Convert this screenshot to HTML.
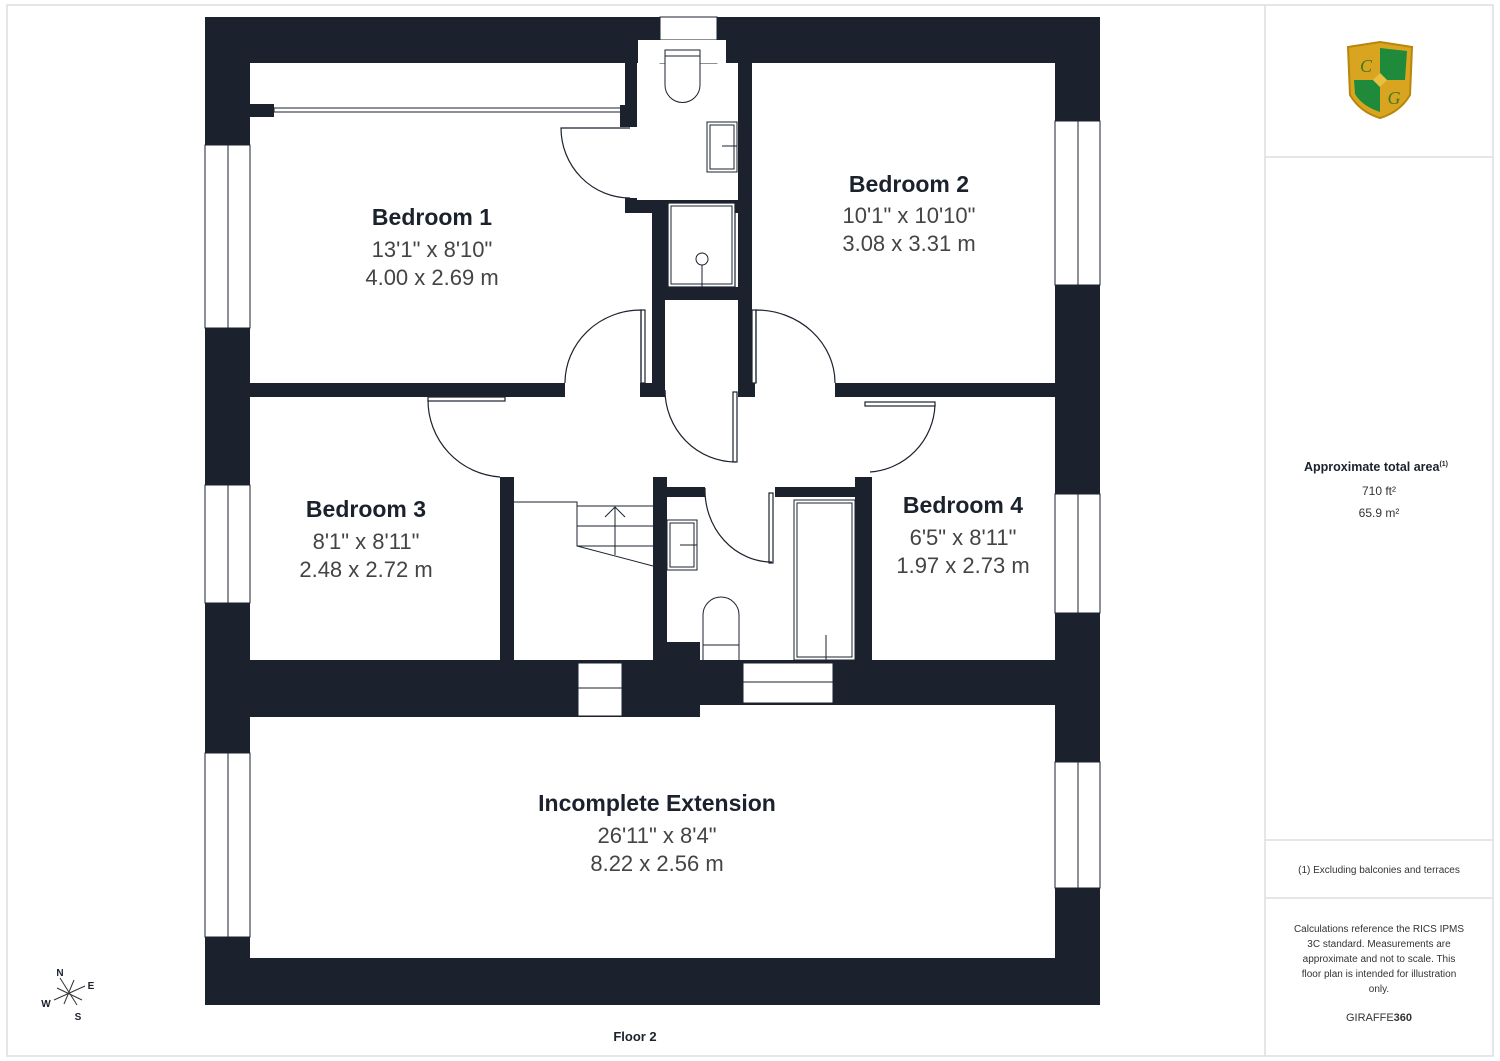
<!DOCTYPE html>
<html><head><meta charset="utf-8"><style>
body{margin:0;background:#fff}
svg{display:block}
.t{font-family:"Liberation Sans",sans-serif;font-weight:bold;fill:#1b222d;text-anchor:middle}
.d{font-family:"Liberation Sans",sans-serif;fill:#444;text-anchor:middle}
.s{font-family:"Liberation Sans",sans-serif;fill:#333;text-anchor:middle}
</style></head><body>
<svg width="1500" height="1061" viewBox="0 0 1500 1061" xmlns="http://www.w3.org/2000/svg">
<rect x="7" y="5" width="1486" height="1051" fill="none" stroke="#ddd" stroke-width="1.5"/>
<line x1="1265" y1="5" x2="1265" y2="1056" stroke="#ddd" stroke-width="1.5"/>
<line x1="1265" y1="157" x2="1493" y2="157" stroke="#ddd" stroke-width="1.5"/>
<line x1="1265" y1="840" x2="1493" y2="840" stroke="#ddd" stroke-width="1.5"/>
<line x1="1265" y1="898" x2="1493" y2="898" stroke="#ddd" stroke-width="1.5"/>

<rect x="205" y="17" width="895" height="988" fill="#1b222d"/>
<g fill="#fff">
<rect x="250" y="63" width="375" height="320"/>
<rect x="250" y="105" width="387" height="93"/>
<rect x="624" y="213" width="28" height="170"/>
<rect x="637" y="63" width="101" height="137"/>
<rect x="668" y="213" width="70" height="74"/>
<rect x="752" y="63" width="303" height="320"/>
<rect x="665" y="300" width="73" height="97"/>
<rect x="565" y="383" width="75" height="14"/>
<rect x="667" y="383" width="71" height="14"/>
<rect x="755" y="383" width="80" height="14"/>
<rect x="250" y="397" width="805" height="80"/>
<rect x="250" y="477" width="250" height="183"/>
<rect x="514" y="477" width="139" height="183"/>
<rect x="667" y="477" width="188" height="10"/>
<rect x="705" y="487" width="70" height="13"/>
<rect x="667" y="497" width="188" height="145"/>
<rect x="700" y="642" width="155" height="18"/>
<rect x="872" y="477" width="183" height="183"/>
<rect x="250" y="717" width="805" height="241"/>
<rect x="700" y="705" width="355" height="12"/>
</g>
<rect x="668" y="203" width="67" height="84" fill="#fff" stroke="#1b222d" stroke-width="1.2"/>
<rect x="671" y="206" width="61" height="78" fill="none" stroke="#1b222d" stroke-width="1"/>
<circle cx="702" cy="259" r="6" fill="none" stroke="#1b222d"/>
<line x1="702" y1="265" x2="702" y2="287" stroke="#1b222d"/>
<rect x="660" y="17" width="57" height="46" fill="#fff" stroke="#1b222d"/>
<line x1="660" y1="40" x2="717" y2="40" stroke="#1b222d"/>
<rect x="638" y="40" width="88" height="23" fill="#fff"/>
<path d="M665 50 H700 V85 A17 17 0 0 1 665 85 Z" fill="#fff" stroke="#1b222d"/>
<line x1="665" y1="56" x2="700" y2="56" stroke="#1b222d"/>
<rect x="707" y="122" width="30" height="50" fill="none" stroke="#1b222d"/>
<rect x="710" y="125" width="24" height="44" fill="none" stroke="#1b222d"/>
<line x1="722" y1="146" x2="737" y2="146" stroke="#1b222d"/>
<rect x="250" y="104" width="24" height="13" fill="#1b222d"/>
<rect x="274" y="108" width="350" height="4" fill="#fff" stroke="#1b222d"/>
<rect x="620" y="105" width="17" height="22" fill="#1b222d"/>
<g fill="#fff" stroke="#1b222d" stroke-width="1">
<rect x="205" y="145" width="45" height="183"/><line x1="228" y1="145" x2="228" y2="328"/>
<rect x="205" y="485" width="45" height="118"/><line x1="228" y1="485" x2="228" y2="603"/>
<rect x="205" y="753" width="45" height="184"/><line x1="228" y1="753" x2="228" y2="937"/>
<rect x="1055" y="121" width="45" height="164"/><line x1="1078" y1="121" x2="1078" y2="285"/>
<rect x="1055" y="494" width="45" height="119"/><line x1="1078" y1="494" x2="1078" y2="613"/>
<rect x="1055" y="762" width="45" height="126"/><line x1="1078" y1="762" x2="1078" y2="888"/>
<rect x="578" y="663" width="44" height="53"/><line x1="578" y1="688" x2="622" y2="688"/>
<rect x="743" y="663" width="90" height="40"/><line x1="743" y1="682" x2="833" y2="682"/>
</g>
<g fill="none" stroke="#1b222d" stroke-width="1">
<path d="M514 502 H577 V546 L653 566"/>
<path d="M577 506 H653 M577 526 H653 M577 546 H653"/>
<path d="M615 506 V555 M605 517 L615 507 L625 517"/>
</g>
<rect x="667" y="520" width="30" height="50" fill="none" stroke="#1b222d"/>
<rect x="670" y="523" width="24" height="44" fill="none" stroke="#1b222d"/>
<line x1="680" y1="545" x2="697" y2="545" stroke="#1b222d"/>
<path d="M703 660 V615 A18 18 0 0 1 739 615 V660" fill="#fff" stroke="#1b222d"/>
<line x1="703" y1="645" x2="739" y2="645" stroke="#1b222d"/>
<rect x="794" y="500" width="61" height="160" fill="none" stroke="#1b222d"/>
<rect x="797" y="503" width="55" height="154" fill="none" stroke="#1b222d"/>
<line x1="826" y1="635" x2="826" y2="660" stroke="#1b222d"/>
<g fill="none" stroke="#1b222d" stroke-width="1.2">
<path d="M630 128 H561 A69 70 0 0 0 630 198"/>
<path d="M641 383 V310 A76 73 0 0 0 565 383"/><rect x="641" y="310" width="4" height="73"/>
<path d="M756 383 V310 A79 73 0 0 1 835 383"/><rect x="752" y="310" width="4" height="73"/>
<path d="M736 462 A71 72 0 0 1 665 390"/><rect x="733" y="392" width="4" height="70"/>
<path d="M428 400 A77 77 0 0 0 500 477"/><rect x="428" y="397" width="77" height="4"/>
<path d="M935 405 A70 70 0 0 1 870 472"/><rect x="865" y="402" width="70" height="4"/>
<path d="M705 488 A67 72 0 0 0 772 562"/><rect x="769" y="493" width="4" height="70"/>
</g>
<text class="t" x="432" y="225" font-size="23">Bedroom 1</text>
<text class="d" x="432" y="257" font-size="22">13'1" x 8'10"</text>
<text class="d" x="432" y="285" font-size="22">4.00 x 2.69 m</text>
<text class="t" x="909" y="192" font-size="23">Bedroom 2</text>
<text class="d" x="909" y="223" font-size="22">10'1" x 10'10"</text>
<text class="d" x="909" y="251" font-size="22">3.08 x 3.31 m</text>
<text class="t" x="366" y="517" font-size="23">Bedroom 3</text>
<text class="d" x="366" y="549" font-size="22">8'1" x 8'11"</text>
<text class="d" x="366" y="577" font-size="22">2.48 x 2.72 m</text>
<text class="t" x="963" y="513" font-size="23">Bedroom 4</text>
<text class="d" x="963" y="545" font-size="22">6'5" x 8'11"</text>
<text class="d" x="963" y="573" font-size="22">1.97 x 2.73 m</text>
<text class="t" x="657" y="811" font-size="23">Incomplete Extension</text>
<text class="d" x="657" y="843" font-size="22">26'11" x 8'4"</text>
<text class="d" x="657" y="871" font-size="22">8.22 x 2.56 m</text>
<text class="t" x="635" y="1041" font-size="13">Floor 2</text>
<g stroke="#333" stroke-width="1">
<line x1="60" y1="978" x2="77" y2="1005"/><line x1="54" y1="1000" x2="85" y2="986"/>
<line x1="57" y1="988" x2="82" y2="1000"/><line x1="64" y1="1004" x2="74" y2="980"/>
</g>
<text class="t" x="60" y="976" font-size="10">N</text>
<text class="t" x="91" y="989" font-size="10">E</text>
<text class="t" x="46" y="1007" font-size="10">W</text>
<text class="t" x="78" y="1020" font-size="10">S</text>
<path d="M1348 47 L1380 42 L1412 47 L1410 95 Q1400 112 1380 118 Q1360 112 1350 95 Z" fill="#d9a520" stroke="#b8860b" stroke-width="2"/>
<path d="M1380 48 L1407 51 L1405 80 L1380 80 Z" fill="#1f8a3a"/>
<path d="M1354 80 L1380 80 L1380 112 Q1362 106 1355 94 Z" fill="#1f8a3a"/>
<rect x="1375" y="75" width="10" height="10" fill="#e8c040" transform="rotate(45 1380 80)"/>
<text x="1366" y="72" font-family="Liberation Serif,serif" font-style="italic" font-size="18" fill="#3a7a1a" text-anchor="middle">C</text>
<text x="1394" y="104" font-family="Liberation Serif,serif" font-style="italic" font-size="18" fill="#3a7a1a" text-anchor="middle">G</text>
<text class="t" x="1376" y="471" font-size="12.5">Approximate total area<tspan font-size="7" dy="-5">(1)</tspan></text>
<text class="s" x="1379" y="495" font-size="12">710 ft²</text>
<text class="s" x="1379" y="517" font-size="12">65.9 m²</text>
<text class="s" x="1379" y="873" font-size="10">(1) Excluding balconies and terraces</text>
<text class="s" x="1379" y="932" font-size="10">Calculations reference the RICS IPMS</text>
<text class="s" x="1379" y="947" font-size="10">3C standard. Measurements are</text>
<text class="s" x="1379" y="962" font-size="10">approximate and not to scale. This</text>
<text class="s" x="1379" y="977" font-size="10">floor plan is intended for illustration</text>
<text class="s" x="1379" y="992" font-size="10">only.</text>
<text class="s" x="1379" y="1021" font-size="11">GIRAFFE<tspan font-weight="bold">360</tspan></text>
</svg>
</body></html>
